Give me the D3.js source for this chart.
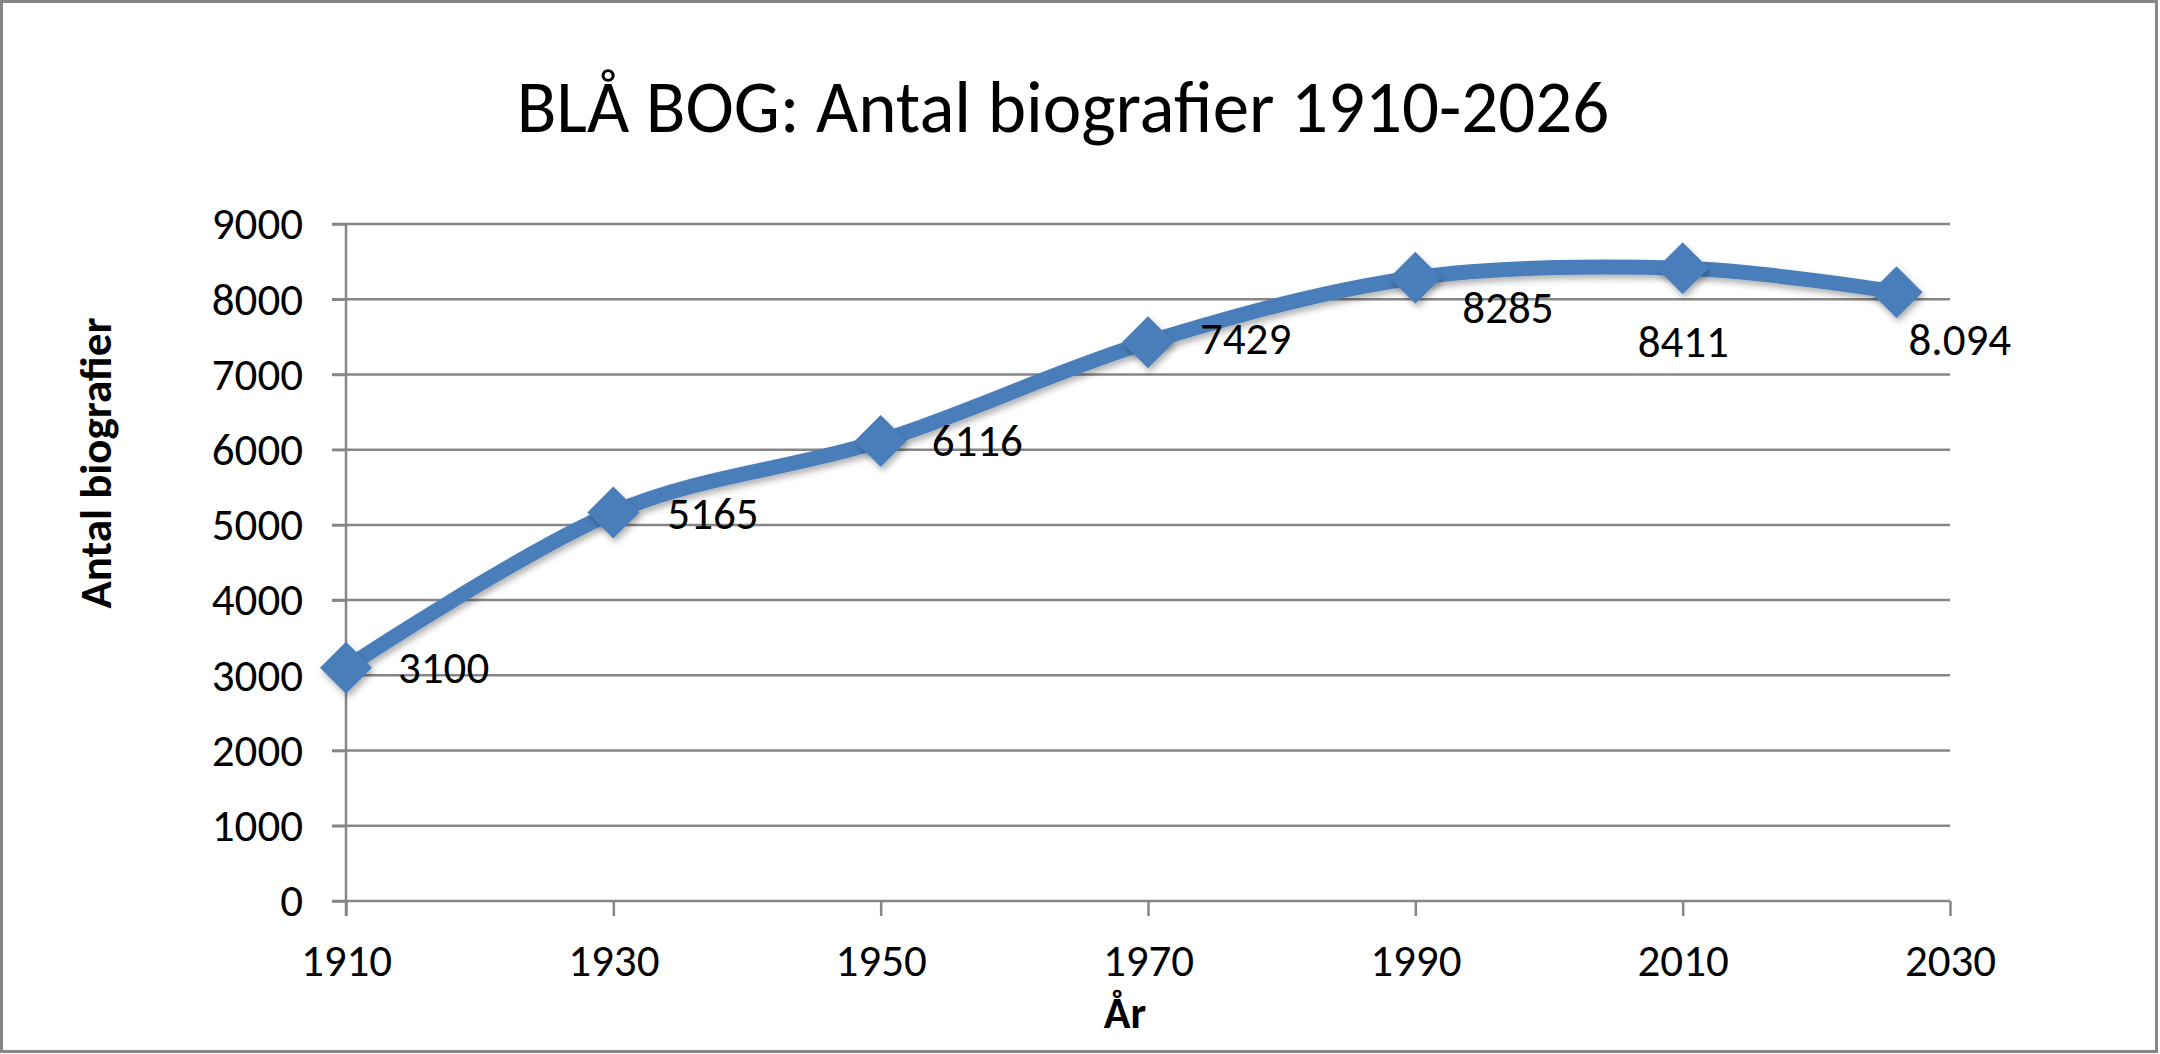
<!DOCTYPE html>
<html>
<head>
<meta charset="utf-8">
<script src="https://cdn.jsdelivr.net/npm/d3@7"></script>
<style>
    body { margin: 0; background: #fff; }
    svg { display: block; }
    text { font-family: Carlito, Calibri, "Open Sans", sans-serif; fill: #000; }
</style>
</head>
<body>
<svg id="chart" width="2160" height="1054"></svg>
<script>
// data
var years = [1910, 1930, 1950, 1970, 1990, 2010, 2026];
var counts = [3100, 5165, 6116, 7429, 8285, 8411, 8094];
var labels = ["3100", "5165", "6116", "7429", "8285", "8411", "8.094"];
var xTicks = [1910, 1930, 1950, 1970, 1990, 2010, 2030];
var yTicks = [0, 1000, 2000, 3000, 4000, 5000, 6000, 7000, 8000, 9000];

// where each data label sits relative to its marker (dx to text start, dy to baseline)
var labelOffsets = [[52, 15], [54, 17], [51, 15], [52, 12], [47, 45], [-45, 89], [12, 63]];

var W = 2160, H = 1054;
var plot = {left: 346, right: 1950, top: 224, bottom: 901};
var grey = "#868686", blue = "#4A7EBB";

var svg = d3.select("#chart");

var x = d3.scaleLinear().domain([1910, 2030]).range([plot.left, plot.right]);
var y = d3.scaleLinear().domain([0, 9000]).range([plot.bottom, plot.top]);

// drop shadow like the office chart
var defs = svg.append("defs");
defs.append("filter")
    .attr("id", "shadow")
    .attr("x", "-20%").attr("y", "-20%")
    .attr("width", "140%").attr("height", "140%")
    .append("feDropShadow")
    .attr("dx", 2).attr("dy", 4)
    .attr("stdDeviation", 3)
    .attr("flood-color", "#000")
    .attr("flood-opacity", 0.3);

svg.append("rect")
    .attr("x", 1.5).attr("y", 1.5)
    .attr("width", W - 5).attr("height", H - 4)
    .attr("fill", "#fff")
    .attr("stroke", grey)
    .attr("stroke-width", 3);

// horizontal gridlines
svg.append("g")
    .selectAll("line")
    .data(yTicks)
    .enter()
    .append("line")
    .attr("x1", plot.left - 14)
    .attr("x2", plot.right)
    .attr("y1", function(d){ return y(d); })
    .attr("y2", function(d){ return y(d); })
    .attr("stroke", grey)
    .attr("stroke-width", 2.5);

// y axis
var yAxis = svg.append("g")
    .attr("transform", "translate(" + plot.left + ",0)")
    .call(d3.axisLeft(y).tickValues(yTicks).tickSize(14).tickPadding(29).tickFormat(d3.format("d")));

// x axis
var xAxis = svg.append("g")
    .attr("transform", "translate(0," + plot.bottom + ")")
    .call(d3.axisBottom(x).tickValues(xTicks).tickSize(15).tickPadding(30).tickFormat(d3.format("d")));

[yAxis, xAxis].forEach(function(ax) {
    ax.selectAll(".tick line").attr("stroke", grey).attr("stroke-width", 2.5);
    ax.selectAll(".tick text")
        .attr("fill", "#000")
        .style("font-size", "45px");
});
yAxis.selectAll(".tick text").attr("dy", "0.33em");
xAxis.selectAll(".tick text").attr("dy", "0.66em");

// axis lines: the y line reaches down to the x tick length
yAxis.select(".domain").remove();
xAxis.select(".domain").remove();
svg.append("line")
    .attr("x1", plot.left).attr("x2", plot.left)
    .attr("y1", plot.top).attr("y2", plot.bottom + 15)
    .attr("stroke", grey)
    .attr("stroke-width", 2.5);

var points = years.map(function(d, i){ return {year: d, value: counts[i], label: labels[i], off: labelOffsets[i]}; });

// smoothed series line
var line = d3.line()
    .x(function(d){ return x(d.year); })
    .y(function(d){ return y(d.value); })
    .curve(d3.curveCatmullRom.alpha(0));

svg.append("path")
    .datum(points)
    .attr("d", line)
    .attr("fill", "none")
    .attr("stroke", blue)
    .attr("stroke-width", 15)
    .attr("stroke-linejoin", "round")
    .attr("filter", "url(#shadow)");

// diamond markers
svg.append("g")
    .selectAll("path")
    .data(points)
    .enter()
    .append("path")
    .attr("transform", function(d){ return "translate(" + x(d.year) + "," + y(d.value) + ")"; })
    .attr("d", "M0,-26L26,0L0,26L-26,0Z")
    .attr("fill", blue)
    .attr("filter", "url(#shadow)");

// data labels
svg.append("g")
    .selectAll("text")
    .data(points)
    .enter()
    .append("text")
    .attr("x", function(d){ return x(d.year) + d.off[0]; })
    .attr("y", function(d){ return y(d.value) + d.off[1]; })
    .style("font-size", "45px")
    .text(function(d){ return d.label; });

function fitText(sel, maxWidth) {
    var node = sel.node();
    if (node.getComputedTextLength() > maxWidth) {
        sel.attr("textLength", maxWidth).attr("lengthAdjust", "spacingAndGlyphs");
    }
}

// titles
var title = svg.append("text")
    .attr("x", 1063)
    .attr("y", 132)
    .attr("text-anchor", "middle")
    .style("font-size", "73px")
    .text("BLÅ BOG: Antal biografier 1910-2026");
fitText(title, 1095);

var yTitle = svg.append("text")
    .attr("transform", "translate(111,463) rotate(-90)")
    .attr("text-anchor", "middle")
    .style("font-size", "45px")
    .style("font-weight", "bold")
    .text("Antal biografier");
fitText(yTitle, 300);

svg.append("text")
    .attr("x", 1125)
    .attr("y", 1028)
    .attr("text-anchor", "middle")
    .style("font-size", "44px")
    .style("font-weight", "bold")
    .text("År");
</script>
</body>
</html>
